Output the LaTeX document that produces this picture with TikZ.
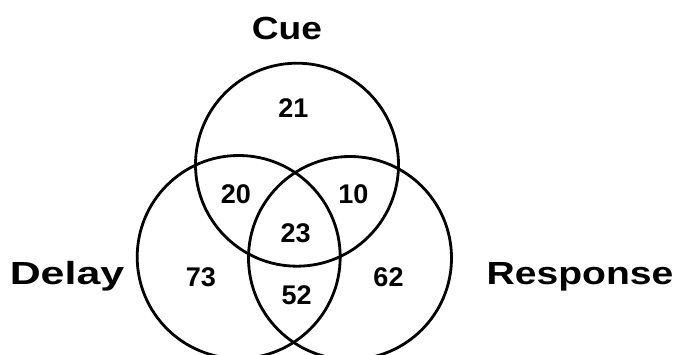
\documentclass[tikz,border=0pt]{standalone}
\usepackage{fontspec}
\setmainfont{Liberation Sans}
\begin{document}
\begin{tikzpicture}[x=1pt,y=-1pt,
  ring/.style={circle,draw=black,line width=2.8pt,minimum size=203pt,inner sep=0pt},
  setlabel/.style={anchor=base,inner sep=0pt,font=\fontsize{32}{34}\selectfont\bfseries},
  count/.style={anchor=base,inner sep=0pt,font=\fontsize{27}{29}\selectfont\bfseries}]
\useasboundingbox (0,0) rectangle (677,355);
\clip (0,0) rectangle (677,355);
\node[ring] (cue) at (297,164.7) {};
\node[ring] (delay) at (238.7,257) {};
\node[ring] (resp) at (350,258) {};
\node[setlabel] (lcue) at (287,40) {\scalebox{1.16}[1]{Cue}};
\node[setlabel] (ldelay) at (67,284) {\scalebox{1.34}[1]{Delay}};
\node[setlabel] (lresp) at (580,284) {\scalebox{1.22}[1]{Response}};
\node[count] (n21) at (293.3,118) {21};
\node[count] (n20) at (236,204) {20};
\node[count] (n10) at (353.3,204) {10};
\node[count] (n23) at (295.7,242.5) {23};
\node[count] (n73) at (200.8,286.5) {73};
\node[count] (n62) at (388.5,286.5) {62};
\node[count] (n52) at (296.7,305) {52};
\end{tikzpicture}
\end{document}
